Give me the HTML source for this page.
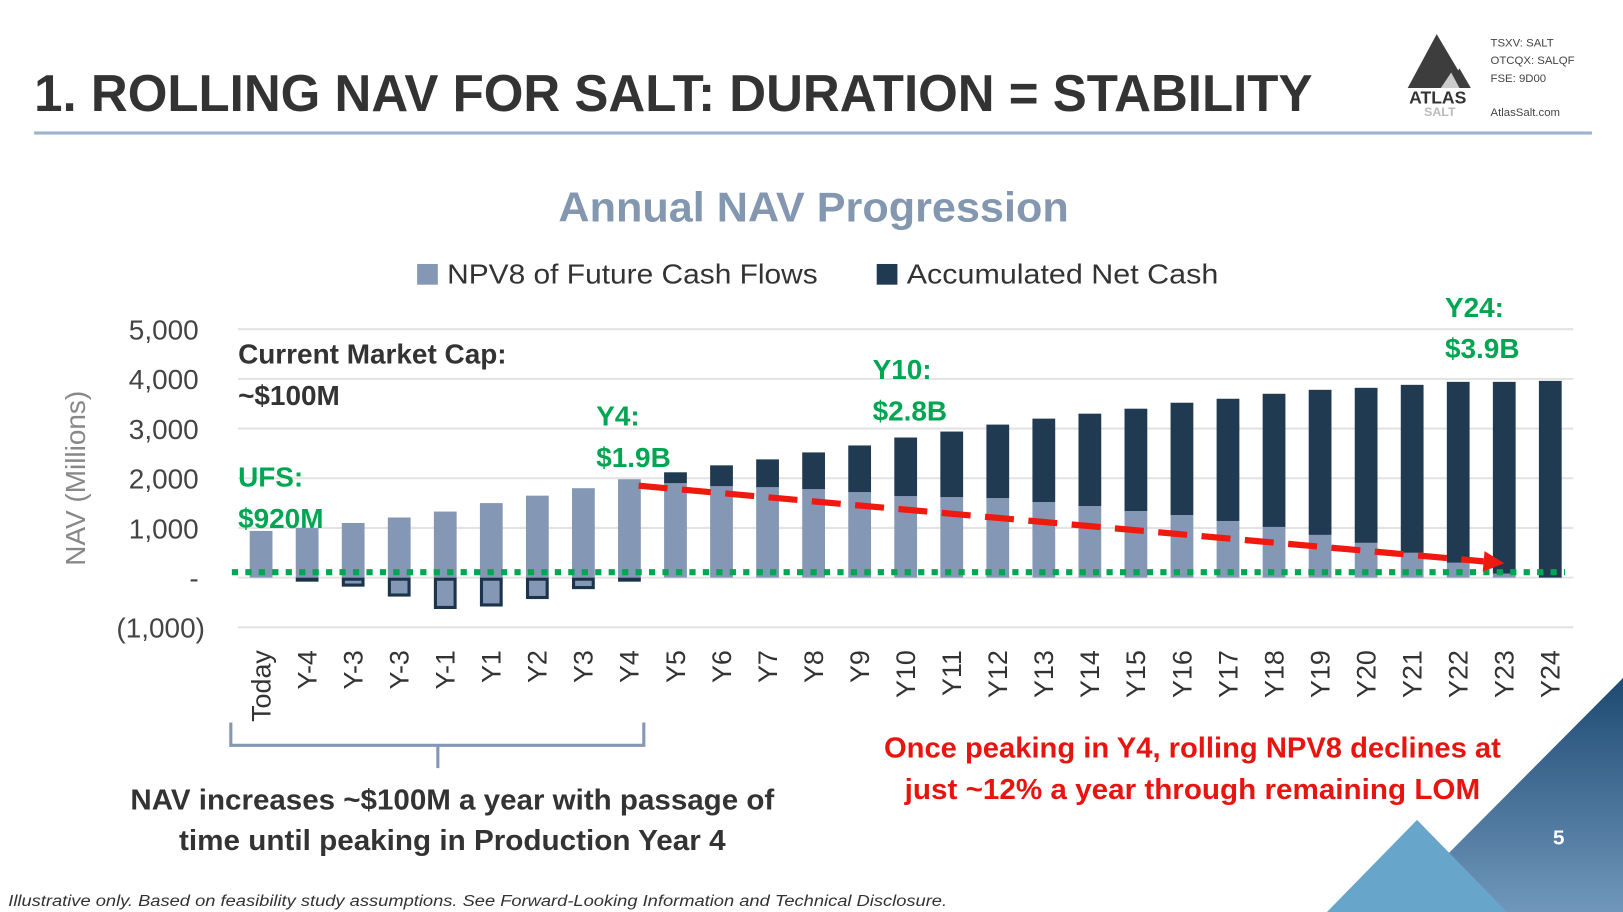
<!DOCTYPE html>
<html><head><meta charset="utf-8"><style>
html,body{margin:0;padding:0;background:#fff;}
svg{display:block;font-family:"Liberation Sans",sans-serif;}
</style></head><body>
<svg id="s" width="1623" height="912" viewBox="0 0 1568 881" preserveAspectRatio="none" xmlns="http://www.w3.org/2000/svg">
<defs>
<linearGradient id="dg" x1="0" y1="1" x2="0" y2="0">
<stop offset="0" stop-color="#7096bb"/><stop offset="1" stop-color="#1d4a72"/>
</linearGradient>
</defs>
<rect width="1568" height="881" fill="#fff"/>
<text x="33" y="107" font-size="50" font-weight="bold" fill="#333" textLength="1235" lengthAdjust="spacingAndGlyphs">1. ROLLING NAV FOR SALT: DURATION = STABILITY</text>
<rect x="33" y="127" width="1505" height="3" fill="#9cb3cf"/>
<g>
<polygon points="1360,85 1388,33 1410,70 1402,85" fill="#3d3d3d"/>
<polygon points="1398,85 1410,66 1421,85" fill="#3d3d3d"/>
<polygon points="1392,85 1402,70 1410,85" fill="#ccc"/>
<text x="1389" y="100" font-size="17" font-weight="bold" fill="#333" text-anchor="middle">ATLAS</text>
<text x="1391" y="112" font-size="12" font-weight="bold" fill="#bbb" text-anchor="middle">SALT</text>
</g>
<g font-size="11" fill="#444">
<text x="1440" y="45">TSXV: SALT</text>
<text x="1440" y="62">OTCQX: SALQF</text>
<text x="1440" y="79">FSE: 9D00</text>
<text x="1440" y="112">AtlasSalt.com</text>
</g>
<text x="786" y="214" font-size="40" font-weight="bold" fill="#8497b0" text-anchor="middle" textLength="493" lengthAdjust="spacingAndGlyphs">Annual NAV Progression</text>
<g>
<rect x="403" y="255" width="20" height="20" fill="#8497b5"/>
<text x="432" y="274" font-size="27" fill="#333" textLength="358" lengthAdjust="spacingAndGlyphs">NPV8 of Future Cash Flows</text>
<rect x="847" y="255" width="20" height="20" fill="#203a52"/>
<text x="876" y="274" font-size="27" fill="#333" textLength="301" lengthAdjust="spacingAndGlyphs">Accumulated Net Cash</text>
</g>
<text transform="translate(82,462) rotate(-90)" font-size="27" fill="#888" text-anchor="middle">NAV (Millions)</text>
<g id="grid"></g><g id="yt"></g><g id="bars"></g><g id="xt"></g><g id="ov"></g>
<g font-weight="bold" font-size="27">
<text x="230" y="351" fill="#333">Current Market Cap:</text>
<text x="230" y="391" fill="#333">~$100M</text>
<text x="230" y="470" fill="#00a651">UFS:</text>
<text x="230" y="510" fill="#00a651">$920M</text>
<text x="576" y="411" fill="#00a651">Y4:</text>
<text x="576" y="451" fill="#00a651">$1.9B</text>
<text x="843" y="366" fill="#00a651">Y10:</text>
<text x="843" y="406" fill="#00a651">$2.8B</text>
<text x="1396" y="306" fill="#00a651">Y24:</text>
<text x="1396" y="346" fill="#00a651">$3.9B</text>
</g>
<path d="M223,698 L223,720 L622,720 L622,698 M423,720 L423,742" stroke="#8497b5" stroke-width="3" fill="none"/>
<g font-size="28" font-weight="bold" fill="#333" text-anchor="middle">
<text x="437" y="782" textLength="622" lengthAdjust="spacingAndGlyphs">NAV increases ~$100M a year with passage of</text>
<text x="437" y="821" textLength="528" lengthAdjust="spacingAndGlyphs">time until peaking in Production Year 4</text>
</g>
<g font-size="28" font-weight="bold" fill="#e8140f" text-anchor="middle">
<text x="1152" y="732" textLength="596" lengthAdjust="spacingAndGlyphs">Once peaking in Y4, rolling NPV8 declines at</text>
<text x="1152" y="772" textLength="556" lengthAdjust="spacingAndGlyphs">just ~12% a year through remaining LOM</text>
</g>
<g>
<polygon points="1343,881 1568,655 1568,881" fill="url(#dg)"/>
<polygon points="1282,881 1369,792 1456,881" fill="#67a5cb"/>
</g>
<text x="1506" y="816" font-size="20" font-weight="bold" fill="#fff" text-anchor="middle">5</text>
<text x="8" y="875" font-size="15" font-style="italic" fill="#333" textLength="907" lengthAdjust="spacingAndGlyphs">Illustrative only. Based on feasibility study assumptions. See Forward-Looking Information and Technical Disclosure.</text>
</svg>
<script>
const categories = ["Today","Y-4","Y-3","Y-3","Y-1","Y1","Y2","Y3","Y4","Y5","Y6","Y7","Y8","Y9","Y10","Y11","Y12","Y13","Y14","Y15","Y16","Y17","Y18","Y19","Y20","Y21","Y22","Y23","Y24"];
const npv8 = [940,1000,1100,1210,1330,1500,1650,1800,1980,1900,1840,1820,1780,1720,1640,1620,1600,1520,1440,1340,1260,1140,1020,860,700,500,300,80,0];
const netCash = [0,-50,-150,-350,-600,-550,-400,-200,-50,220,420,560,740,940,1180,1320,1480,1680,1860,2060,2260,2460,2680,2920,3120,3380,3640,3860,3960];
const yTicks = [5000,4000,3000,2000,1000,0,-1000];
const yTickLabels = ["5,000","4,000","3,000","2,000","1,000","-","(1,000)"];
const trendStart = {idx: 8.2, value: 1850};
const trendEnd = {idx: 27, value: 290};
const uFSLine = 110;

const NS = "http://www.w3.org/2000/svg";
const X0 = 230, X1 = 1520, n = categories.length, band = (X1 - X0) / n;
const xc = i => X0 + band * (i + 0.5);
const y = v => 558 - v * 0.048;
function mk(tag, attrs, parent) {
  const e = document.createElementNS(NS, tag);
  for (const k in attrs) e.setAttribute(k, attrs[k]);
  parent.appendChild(e);
  return e;
}
const grid = document.getElementById('grid'), yt = document.getElementById('yt'),
      bars = document.getElementById('bars'), xt = document.getElementById('xt'), ov = document.getElementById('ov');
yTicks.forEach((t, i) => {
  const l = mk('line', {x1: X0, x2: X1, y1: y(t), y2: y(t), stroke: '#e3e3e3', 'stroke-width': 2}, grid);
  
  
  const tx = mk('text', {x: i === 6 ? 198 : 192, y: y(t) + 10, 'font-size': 27, fill: '#444', 'text-anchor': 'end'}, yt);
  tx.textContent = yTickLabels[i];
  
  
});
const bw = 22;
categories.forEach((c, i) => {
  const cx = xc(i);
  const a = npv8[i], b = netCash[i];
  const r1 = mk('rect', {x: cx - bw/2, y: y(a), width: bw, height: Math.max(0, y(0) - y(a)), fill: '#8497b5'}, bars);
  
  
  if (b > 0) {
    const r2 = mk('rect', {x: cx - bw/2, y: y(a + b), width: bw, height: y(a) - y(a + b), fill: '#203a52'}, bars);
    
    
  } else if (b < 0) {
    const r2 = mk('rect', {x: cx - bw/2 + 1.5, y: y(0) + 1.5, width: bw - 3, height: y(b) - y(0) - 1.5, fill: '#8497b5', stroke: '#1c344b', 'stroke-width': 3}, bars);
    
    
  }
  const tx = mk('text', {transform: `translate(${cx + 9},628) rotate(-90)`, 'font-size': 26, fill: '#333', 'text-anchor': 'end'}, xt);
  tx.textContent = c;
  
  
});
const g = mk('line', {x1: 224, x2: 1512, y1: y(uFSLine), y2: y(uFSLine), stroke: '#00a651', 'stroke-width': 6, 'stroke-dasharray': '6 7'}, ov);


const sx = xc(trendStart.idx), sy = y(trendStart.value), ex = xc(trendEnd.idx), ey = y(trendEnd.value);
const ang = Math.atan2(ey - sy, ex - sx);
const lx = ex - 20 * Math.cos(ang), ly = ey - 20 * Math.sin(ang);
const tl = mk('line', {x1: sx, y1: sy, x2: lx, y2: ly, stroke: '#f0190f', 'stroke-width': 6, 'stroke-dasharray': '28 14'}, ov);


const px = -Math.sin(ang), py = Math.cos(ang);
const ah = mk('polygon', {points: `${ex},${ey} ${lx + 10*px},${ly + 10*py} ${lx - 10*px},${ly - 10*py}`, fill: '#f0190f'}, ov);


</script>
</body></html>
